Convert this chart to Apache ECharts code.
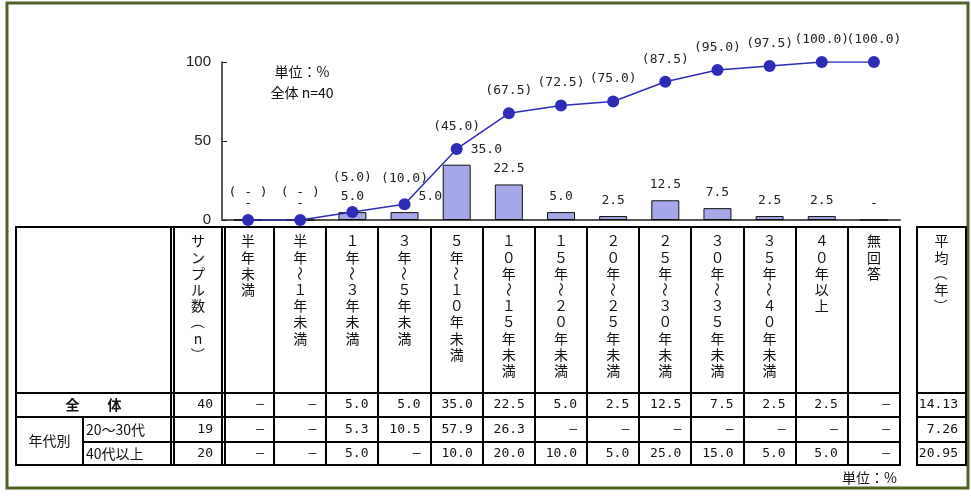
<!DOCTYPE html>
<html style="height: 100%">
<head>
<meta charset="utf-8">
</head>
<body style="height: 100%; margin: 0; background: #fff">
<div id="container" style="width: 971px; height: 498px"></div>
<script type="text/javascript" src="https://cdn.jsdelivr.net/npm/echarts@6.0.0/dist/echarts.min.js"></script>
<script type="text/javascript">
// categories (table header, also x axis of the chart)
var categories = ['半年未満', '半年～１年未満', '１年～３年未満', '３年～５年未満', '５年～１０年未満',
    '１０年～１５年未満', '１５年～２０年未満', '２０年～２５年未満', '２５年～３０年未満',
    '３０年～３５年未満', '３５年～４０年未満', '４０年以上', '無回答'];
// 全体 (bars)
var sharePct = [0, 0, 5.0, 5.0, 35.0, 22.5, 5.0, 2.5, 12.5, 7.5, 2.5, 2.5, 0];
// cumulative (line), as printed on the chart
var cumulativePct = [0, 0, 5.0, 10.0, 45.0, 67.5, 72.5, 75.0, 87.5, 95.0, 97.5, 100.0, 100.0];
// age rows of the table
var age2030Pct = [0, 0, 5.3, 10.5, 57.9, 26.3, 0, 0, 0, 0, 0, 0, 0];
var age40Pct = [0, 0, 5.0, 0, 10.0, 20.0, 10.0, 5.0, 25.0, 15.0, 5.0, 5.0, 0];
var rowLabels = ['全　　体', '20～30代', '40代以上'];
var groupLabel = '年代別';
var sampleN = [40, 19, 20];
var avgYears = [14.13, 7.26, 20.95];
var yTicks = [0, 50, 100];

var MONO = '"DejaVu Sans Mono", "Noto Sans CJK JP", monospace';
var JP = '"Noto Sans CJK JP", sans-serif';

var dom = document.getElementById('container');
var myChart = echarts.init(dom, null, {renderer: 'canvas'});

function fmt1(v) { return v === 0 ? '–' : v.toFixed(1); }

// manual label tweaks (as in the original sheet)
var barLabelRight = {3: true, 4: true};
var lineLabelLift = {0: -5, 1: -5, 2: -12, 3: -3};

var barData = sharePct.map(function (v, i) {
    var item = {value: v};
    if (barLabelRight[i]) {
        item.label = {position: [28, -15], align: 'left', verticalAlign: 'middle'};
    }
    return item;
});
var lineData = cumulativePct.map(function (v, i) {
    var item = {value: v};
    if (lineLabelLift[i]) {
        item.label = {offset: [0, lineLabelLift[i]]};
    }
    return item;
});

var option = {
    animation: false,
    backgroundColor: '#fff',
    grid: {left: 222, right: 71, top: 62, bottom: 278},
    xAxis: {
        type: 'category',
        data: categories,
        axisLine: {lineStyle: {color: '#555', width: 2}},
        axisTick: {show: false},
        axisLabel: {show: false}
    },
    yAxis: {
        type: 'value',
        min: yTicks[0],
        max: yTicks[yTicks.length - 1],
        interval: 50,
        splitLine: {show: false},
        axisLine: {show: true, lineStyle: {color: '#222', width: 1.5}},
        axisTick: {show: true, inside: true, length: 5, lineStyle: {color: '#222'}},
        axisLabel: {
            margin: 11,
            color: '#222',
            fontSize: 15,
            fontFamily: '"Liberation Sans", sans-serif'
        }
    },
    series: [{
        type: 'bar',
        data: barData,
        barWidth: 28,
        itemStyle: {color: '#a5a7e8', borderColor: '#111', borderWidth: 1},
        label: {
            show: true,
            position: 'top',
            distance: 9,
            color: '#222',
            fontSize: 13,
            fontFamily: MONO,
            formatter: function (p) { return p.value === 0 ? '-' : p.value.toFixed(1); }
        },
        z: 2
    }, {
        type: 'line',
        data: lineData,
        symbol: 'circle',
        symbolSize: 12,
        itemStyle: {color: '#2c2cb6'},
        lineStyle: {color: '#2c2cb6', width: 1.5},
        label: {
            show: true,
            position: 'top',
            distance: 10,
            color: '#222',
            fontSize: 13,
            fontFamily: MONO,
            formatter: function (p) { return p.value === 0 ? '( - )' : '(' + p.value.toFixed(1) + ')'; }
        },
        z: 3
    }]
};
myChart.setOption(option);

// ---- table under the chart, columns follow the category axis ----
var T0 = 227, T1 = 393, T2 = 417, T3 = 442, T4 = 465;
var XL = 16, XG = 83, XS1 = 171, XS2 = 174, XC1 = 222, XC2 = 225, XR = 900;
var XA1 = 917, XA2 = 966;

var centers = categories.map(function (c, i) {
    return myChart.convertToPixel({xAxisIndex: 0}, i);
});
var band = centers.length > 1 ? centers[1] - centers[0] : 52;

var g = [];
function hline(x1, x2, y) {
    g.push({type: 'line', shape: {x1: x1, y1: y, x2: x2, y2: y}, style: {stroke: '#000', lineWidth: 2}, silent: true});
}
function vline(x, y1, y2) {
    g.push({type: 'line', shape: {x1: x, y1: y1, x2: x, y2: y2}, style: {stroke: '#000', lineWidth: 2}, silent: true});
}
function txt(s, x, y, align, font, opts) {
    var st = {text: s, x: 0, y: 0, align: align, verticalAlign: 'middle',
        font: font, fill: '#111'};
    g.push(Object.assign({type: 'text', x: x, y: y, style: st, silent: true}, opts || {}));
}

// frame
g.push({type: 'rect', shape: {x: 7, y: 3, width: 961, height: 485},
    style: {fill: 'none', stroke: '#4f6228', lineWidth: 3}, silent: true});

// horizontal rules
[T0, T1, T2, T4].forEach(function (y) { hline(XL - 1, XR + 1, y); hline(XA1 - 1, XA2 + 1, y); });
hline(XG, XR + 1, T3); hline(XA1 - 1, XA2 + 1, T3);
// vertical rules
vline(XL, T0, T4);
vline(XG, T2, T4);
vline(XS1, T0, T4); vline(XS2, T0, T4);
vline(XC1, T0, T4); vline(XC2, T0, T4);
for (var i = 1; i < centers.length; i++) {
    vline(Math.round(centers[i] - band / 2), T0, T4);
}
vline(XR, T0, T4);
vline(XA1, T0, T4); vline(XA2, T0, T4);

// vertical header text
function vertical(s, cx) {
    var chars = Array.from(s);
    chars.forEach(function (ch, k) {
        var rot = (ch === '～' || ch === '（' || ch === '）') ? -Math.PI / 2 : 0;
        txt(ch, cx, 241 + k * 16.2, 'center', '14px ' + JP, {rotation: rot});
    });
}
vertical('サンプル数（n）', (XS2 + XC1) / 2);
categories.forEach(function (c, i) { vertical(c, centers[i]); });
vertical('平均（年）', (XA1 + XA2) / 2);

// body
var rowsY = [(T1 + T2) / 2, (T2 + T3) / 2, (T3 + T4) / 2];
var rowsVals = [sharePct, age2030Pct, age40Pct];
txt(rowLabels[0], (XL + XS1) / 2, rowsY[0], 'center', 'bold 14px ' + JP);
txt(groupLabel, (XL + XG) / 2, (T2 + T4) / 2, 'center', '14px ' + JP);
txt(rowLabels[1], XG + 3, rowsY[1], 'left', '14px ' + JP);
txt(rowLabels[2], XG + 3, rowsY[2], 'left', '14px ' + JP);
rowsVals.forEach(function (vals, r) {
    txt(String(sampleN[r]), XC1 - 9, rowsY[r], 'right', '13px ' + MONO);
    vals.forEach(function (v, i) {
        txt(fmt1(v), centers[i] + band / 2 - 10, rowsY[r], 'right', '13px ' + MONO);
    });
    txt(avgYears[r].toFixed(2), XA2 - 8, rowsY[r], 'right', '13px ' + MONO);
});

// notes
txt('単位：%', 302, 72, 'center', '14px ' + JP);
txt('全体 n=40', 302, 93, 'center', '14px ' + JP);
txt('単位：%', 897, 478, 'right', '14px ' + JP);

myChart.setOption({graphic: {elements: g}});
</script>
</body>
</html>
